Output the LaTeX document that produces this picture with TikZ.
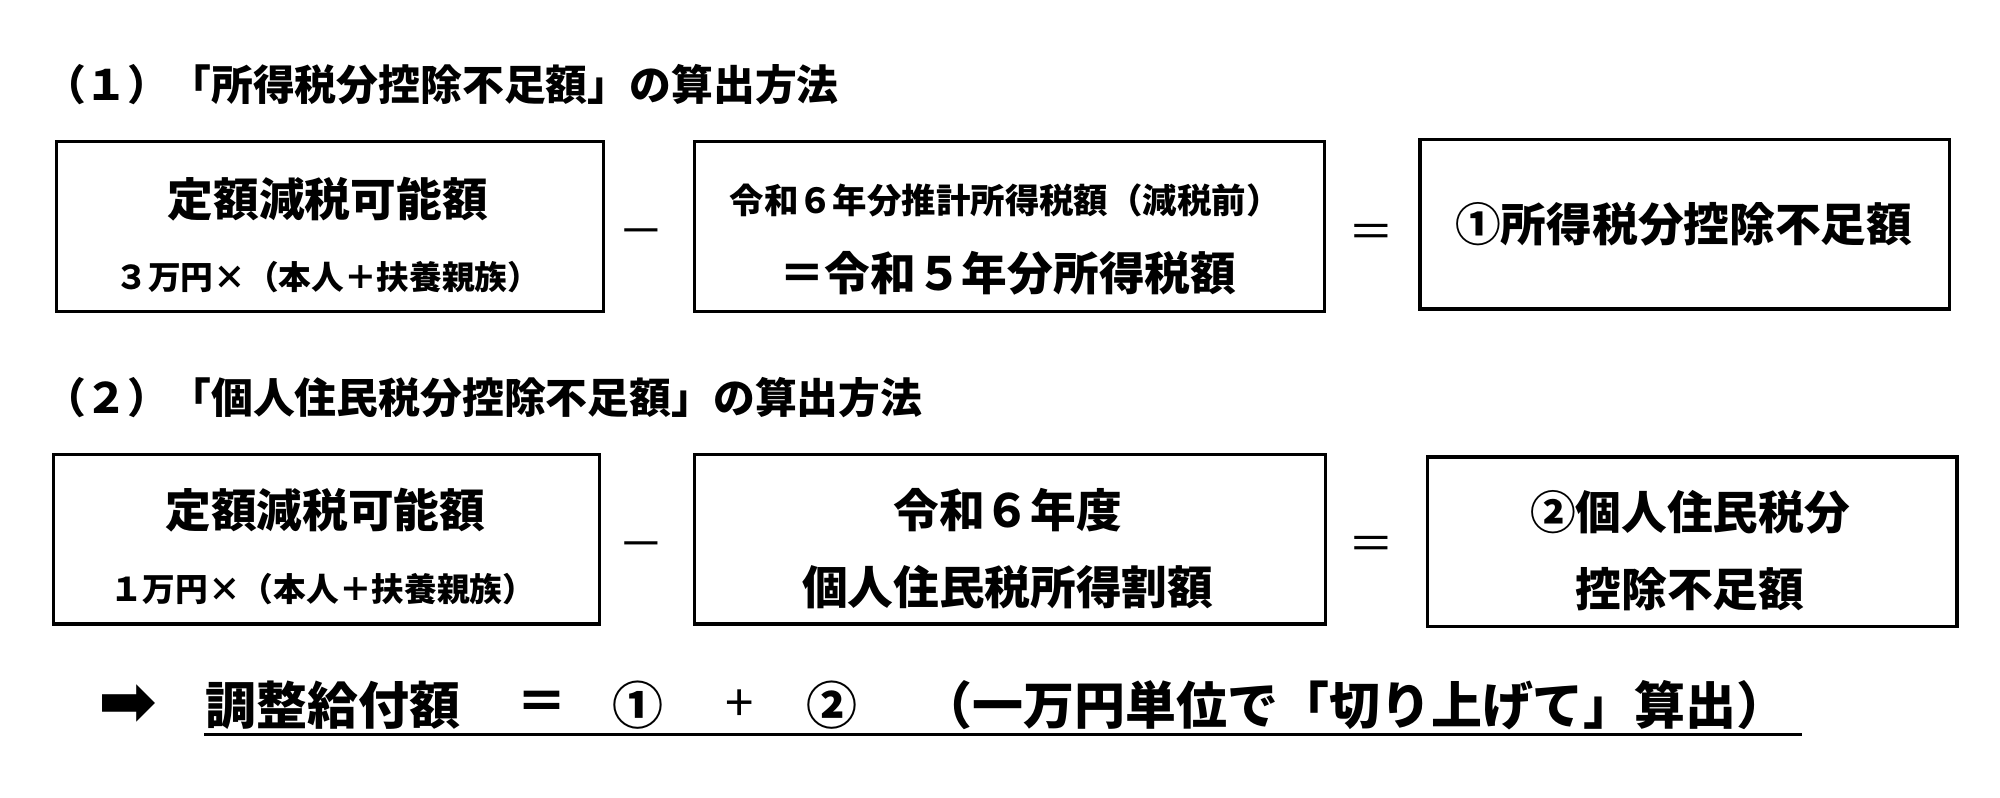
\documentclass[tikz,border=0pt]{standalone}
\usepackage{fontspec}
\setmainfont{Noto Sans CJK JP}
\newfontfamily\symfont{DejaVu Sans}
\usepackage{tikz}

\tikzset{
  calcbox/.style={draw, line width=0.9pt, anchor=north west},
  big/.style={font=\fontsize{13}{15}\selectfont\bfseries},
  small/.style={font=\fontsize{9.3}{11}\selectfont\bfseries},
  heading/.style={font=\fontsize{11.9}{13}\selectfont\bfseries, anchor=west},
  op/.style={font=\fontsize{13}{15}\selectfont},
  bottom/.style={font=\fontsize{14.5}{16}\selectfont\bfseries}
}

\begin{document}
\begin{tikzpicture}[x=0.012755cm, y=-0.012755cm]
  \useasboundingbox (0,0) rectangle (1568,625.6);

  % (1) income tax
  \node[heading, inner sep=0pt] (h1) at (34,66) {（１）「所得税分控除不足額」の算出方法};
  \node[calcbox, minimum width=429*0.012755cm, minimum height=133*0.012755cm] (a1) at (43,110) {};
  \node[big] (a1t) at (257,156) {定額減税可能額};
  \node[small] (a1s) at (257,217) {３万円×（本人＋扶養親族）};
  \node[op] (m1) at (503,187) {－};
  \node[calcbox, minimum width=494*0.012755cm, minimum height=133*0.012755cm] (b1) at (543,110) {};
  \node[small, font=\fontsize{9.8}{11}\selectfont\bfseries] (b1t) at (788,157) {令和６年分推計所得税額（減税前）};
  \node[big] (b1s) at (790,214) {＝令和５年分所得税額};
  \node[op] (e1) at (1075,185) {＝};
  \node[calcbox, minimum width=415*0.012755cm, minimum height=133*0.012755cm] (c1) at (1112,108) {};
  \node[big] (c1t) at (1320,176) {①所得税分控除不足額};

  % (2) resident tax
  \node[heading, inner sep=0pt] (h2) at (34,312) {（２）「個人住民税分控除不足額」の算出方法};
  \node[calcbox, minimum width=428*0.012755cm, minimum height=133*0.012755cm] (a2) at (41,355) {};
  \node[big] (a2t) at (255,400) {定額減税可能額};
  \node[small] (a2s) at (253,462) {１万円×（本人＋扶養親族）};
  \node[op] (m2) at (503,432) {－};
  \node[calcbox, minimum width=495*0.012755cm, minimum height=133*0.012755cm] (b2) at (543,355) {};
  \node[big] (b2t) at (790,400) {令和６年度};
  \node[big] (b2s) at (790,460) {個人住民税所得割額};
  \node[op] (e2) at (1075,430) {＝};
  \node[calcbox, minimum width=415*0.012755cm, minimum height=133*0.012755cm] (c2) at (1118,357) {};
  \node[big] (c2t) at (1325,402) {②個人住民税分};
  \node[big] (c2s) at (1325,462) {控除不足額};

  % result
  \node[font=\fontsize{20}{22}\selectfont\symfont\bfseries] (arr) at (100,553) {➡};
  \node[bottom] (r1) at (261,553) {調整給付額};
  \node[bottom] (r2) at (425,553) {＝};
  \node[bottom] (r3) at (500,553) {①};
  \node[font=\fontsize{14.5}{16}\selectfont] (r4) at (580,553) {+};
  \node[bottom] (r5) at (652,553) {②};
  \node[bottom] (r6) at (1062,553) {（一万円単位で「切り上げて」算出）};
  \coordinate (u1) at (160,576);
  \coordinate (u2) at (1413,576);
  \draw[line width=1pt] (u1) -- (u2);
\end{tikzpicture}
\end{document}
